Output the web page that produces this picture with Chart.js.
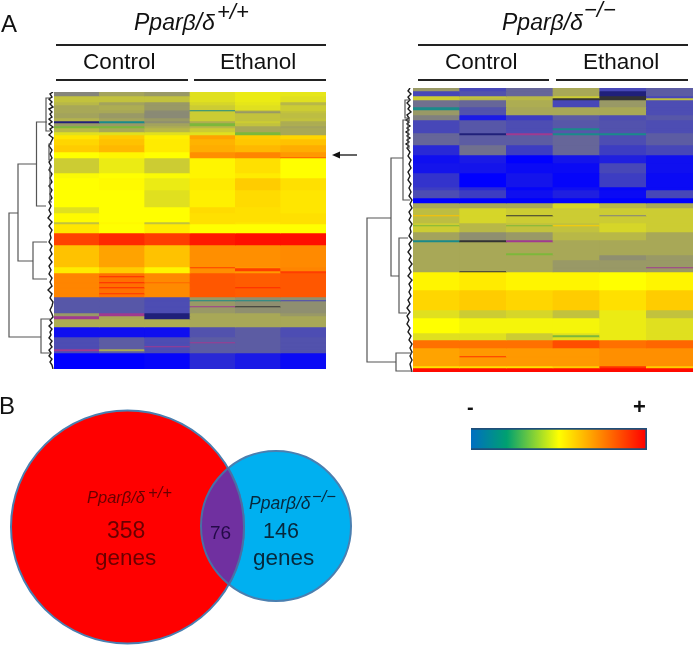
<!DOCTYPE html>
<html>
<head>
<meta charset="utf-8">
<script src="https://cdn.jsdelivr.net/npm/chart.js@4"></script>
<style>
  html, body { margin: 0; padding: 0; background: #fff; }
  #page { position: relative; width: 693px; height: 649px; overflow: hidden; font-family: "Liberation Sans", Arial, sans-serif; color: #111; }
  canvas { position: absolute; filter: blur(0.5px); }
  .t { position: absolute; white-space: nowrap; line-height: 1; filter: blur(0.25px); }
  .it { font-style: italic; }
  .rule { position: absolute; height: 1.5px; background: #222; }
</style>
</head>
<body>
<div id="page">
  <div class="t" style="left:1px;top:12px;font-size:24px">A</div>
  <div class="t" style="left:-1px;top:394px;font-size:24px">B</div>

  <div class="t it" style="left:134px;top:11px;font-size:23px">Pparβ/δ</div>
  <div class="t it" style="left:217px;top:1px;font-size:22px">+/+</div>
  <div class="t it" style="left:502px;top:11px;font-size:23px">Pparβ/δ</div>
  <div class="t it" style="left:584px;top:-1px;font-size:22px">−/−</div>

  <div class="rule" style="left:56px;top:44px;width:270px"></div>
  <div class="rule" style="left:56px;top:79px;width:132px"></div>
  <div class="rule" style="left:194px;top:79px;width:132px"></div>
  <div class="rule" style="left:418px;top:44px;width:270px"></div>
  <div class="rule" style="left:418px;top:79px;width:131px"></div>
  <div class="rule" style="left:556px;top:79px;width:132px"></div>

  <div class="t" style="left:83px;top:51px;font-size:22.5px">Control</div>
  <div class="t" style="left:220px;top:51px;font-size:22.5px">Ethanol</div>
  <div class="t" style="left:445px;top:51px;font-size:22.5px">Control</div>
  <div class="t" style="left:583px;top:51px;font-size:22.5px">Ethanol</div>

  <svg style="position:absolute;left:331px;top:150px" width="26" height="10">
    <path d="M1 5 L9 1.5 L9 8.5 Z" fill="#111"></path>
    <line x1="8" y1="5" x2="26" y2="5" stroke="#111" stroke-width="1.3"></line>
  </svg>

  <canvas id="leftDendro" style="left:0px;top:92px"></canvas>
  <canvas id="leftHeatmap" style="left:54px;top:92px"></canvas>
  <canvas id="rightDendro" style="left:360px;top:88px"></canvas>
  <canvas id="rightHeatmap" style="left:413px;top:88px"></canvas>

  <canvas id="venn" style="left:0px;top:400px"></canvas>
  <div class="t it" style="left:87px;top:489px;font-size:16.5px;color:#6a0000">Pparβ/δ</div>
  <div class="t it" style="left:148px;top:484px;font-size:16.5px;color:#6a0000">+/+</div>
  <div class="t" style="left:107px;top:519px;font-size:23px;color:#6a0000">358</div>
  <div class="t" style="left:95px;top:547px;font-size:22.5px;color:#6a0000">genes</div>
  <div class="t" style="left:210px;top:523px;font-size:19px;color:#240a48">76</div>
  <div class="t it" style="left:249px;top:495px;font-size:17.5px;color:#06283c">Pparβ/δ</div>
  <div class="t it" style="left:312px;top:488px;font-size:16.5px;color:#06283c">−/−</div>
  <div class="t" style="left:263px;top:521px;font-size:21.5px;color:#06283c">146</div>
  <div class="t" style="left:253px;top:547px;font-size:22.5px;color:#06283c">genes</div>

  <div class="t" style="left:467px;top:397px;font-size:20px;font-weight:bold">-</div>
  <div class="t" style="left:633px;top:396px;font-size:22px;font-weight:bold">+</div>
  <canvas id="colorbar" style="left:468px;top:425px"></canvas>
</div>

<script>
// Samples across each heat map, three control and three ethanol
const samples = ['C1', 'C2', 'C3', 'E1', 'E2', 'E3'];

// Left heat map (wild type): band heights and expression per sample.
// 0 is blue, 50 yellow, 100 red. Letters are the thin outlier streaks.
const leftRowHeights = [4, 6, 3, 5, 1, 2, 5, 3, 2, 3, 2, 4, 3, 4, 6, 7, 5, 1, 15, 5, 12, 17, 6, 9, 2, 9, 12, 22, 1, 3, 2, 3, 1, 5, 1, 4, 1, 5, 1, 3, 3, 1, 5, 1, 6, 3, 3, 8, 10, 5, 1, 3, 1, 2, 2, 2, 16];
const leftHeat = [
  [26, 32, 30, 44, 46, 45],
  [38, 38, 38, 44, 46, 44],
  [36, 32, 30, 42, 45, 36],
  [33, 34, 30, 40, 44, 40],
  [33, 33, 28, 't', 38, 40],
  [33, 33, 27, 40, 30, 38],
  [32, 30, 27, 40, 38, 37],
  [35, 32, 30, 40, 38, 38],
  ['n', 't', 28, 34, 40, 34],
  [30, 30, 32, 'g', 38, 34],
  ['g', 'g', 34, 36, 33, 32],
  [36, 33, 36, 40, 33, 33],
  [44, 44, 44, 44, 'g', 33],
  [55, 60, 53, 68, 60, 58],
  [58, 62, 54, 65, 61, 62],
  [60, 64, 54, 66, 64, 66],
  [50, 52, 50, 72, 74, 70],
  [50, 52, 50, 72, 74, 82],
  [40, 46, 40, 52, 56, 50],
  [49, 50, 49, 52, 54, 50],
  [50, 51, 46, 54, 60, 56],
  [50, 50, 44, 53, 57, 55],
  [44, 50, 50, 57, 56, 55],
  [51, 50, 50, 56, 56, 56],
  [38, 51, 38, 56, 55, 56],
  [55, 50, 54, 50, 50, 50],
  [87, 92, 88, 95, 97, 97],
  [62, 68, 62, 72, 72, 73],
  [54, 60, 52, 88, 70, 74],
  [54, 60, 52, 72, 88, 74],
  [54, 60, 52, 72, 70, 88],
  [74, 78, 73, 83, 82, 83],
  [74, 92, 73, 83, 82, 83],
  [74, 78, 73, 83, 82, 83],
  [74, 92, 80, 83, 82, 83],
  [74, 78, 73, 83, 82, 83],
  [74, 92, 73, 83, 92, 83],
  [74, 78, 73, 83, 82, 83],
  [74, 90, 73, 83, 82, 83],
  [74, 78, 73, 83, 82, 83],
  [17, 17, 15, 30, 28, 28],
  [17, 17, 15, 't', 't', 14],
  [17, 17, 15, 30, 28, 28],
  [17, 17, 15, 'm', 'k', 28],
  [17, 17, 15, 30, 28, 28],
  [30, 'm', 'n', 33, 33, 30],
  ['m', 33, 'n', 33, 33, 33],
  [34, 34, 34, 33, 33, 33],
  [3, 3, 3, 16, 18, 15],
  [15, 18, 15, 18, 18, 16],
  [15, 18, 15, 'm', 18, 16],
  [15, 18, 15, 18, 18, 16],
  [15, 18, 'm', 18, 18, 16],
  [15, 18, 15, 18, 18, 16],
  ['m', 33, 15, 18, 18, 16],
  [15, 18, 15, 18, 18, 16],
  [0, 0, 1, 8, 5, 2]
];

// Right heat map (knockout)
const rightRowHeights = [3, 5, 2, 2, 7, 3, 5, 5, 8, 2, 3, 2, 10, 10, 8, 10, 14, 3, 8, 5, 5, 7, 1, 7, 2, 1, 6, 8, 2, 11, 2, 5, 7, 1, 3, 1, 18, 20, 8, 15, 2, 2, 3, 8, 8, 1, 9, 2, 4];
const rightHeat = [
  [30, 14, 20, 33, 14, 18],
  [14, 16, 20, 33, 'n', 18],
  [40, 38, 36, 40, 'k', 14],
  [40, 36, 36, 'k', 'k', 38],
  [22, 20, 34, 14, 30, 15],
  ['t', 16, 33, 33, 33, 15],
  [30, 16, 33, 33, 33, 15],
  [25, 5, 12, 18, 15, 17],
  [14, 17, 15, 17, 16, 15],
  [14, 17, 15, 't', 16, 15],
  [14, 17, 15, 17, 16, 15],
  [20, 'n', 'm', 't', 't', 18],
  [20, 18, 18, 20, 15, 18],
  [8, 22, 12, 20, 12, 14],
  [3, 5, 0, 4, 6, 3],
  [4, 4, 2, 2, 14, 3],
  [10, 0, 4, 1, 12, 2],
  [12, 8, 1, 3, 1, 2],
  [15, 12, 3, 6, 2, 14],
  [0, 0, 0, 1, 0, 0],
  [33, 33, 33, 42, 36, 33],
  [37, 42, 40, 40, 40, 40],
  [62, 42, 'k', 40, 25, 40],
  [37, 42, 40, 40, 40, 40],
  [40, 36, 38, 38, 42, 40],
  ['g', 36, 'g', 60, 42, 40],
  [40, 36, 38, 38, 42, 40],
  [32, 28, 30, 36, 36, 33],
  ['t', 'k', 'm', 33, 33, 33],
  [33, 33, 33, 33, 33, 33],
  [33, 33, 'g', 33, 33, 33],
  [33, 33, 33, 33, 28, 30],
  [33, 33, 33, 30, 30, 30],
  [33, 33, 33, 30, 30, 'm'],
  [33, 33, 33, 30, 30, 30],
  [33, 'k', 33, 30, 30, 30],
  [52, 54, 52, 52, 50, 52],
  [58, 60, 58, 60, 56, 60],
  [44, 40, 42, 38, 46, 38],
  [50, 48, 48, 48, 46, 44],
  [44, 44, 40, 44, 46, 44],
  [44, 44, 40, 'g', 46, 44],
  [44, 44, 40, 44, 46, 44],
  [78, 78, 78, 85, 78, 80],
  [68, 70, 70, 70, 72, 72],
  [68, 90, 70, 70, 72, 72],
  [68, 70, 70, 70, 72, 72],
  [56, 56, 56, 60, 90, 60],
  [98, 98, 98, 98, 98, 98]
];

// Dendrogram merges: [distance, row of upper child, row of lower child, upper child distance, lower child distance]
const leftMerges = [
  [9, 121, 245, 18, 41],
  [18, 72, 169, 36.5, 33],
  [36.5, 30, 114, 47, 46],
  [33, 150, 187, 47, 47],
  [41, 227, 261, 50, 50],
  [46, 6, 39, 50, 50],
  [49, 52, 68, 52, 52],
  [50, 75, 110, 52, 52]
];
const rightMerges = [
  [7, 130, 274, 31, 36],
  [31, 70, 188, 43, 39],
  [43, 32, 112, 50, 50],
  [39, 150, 225, 48, 47],
  [36, 265, 283, 52, 52],
  [45, 12, 30, 50, 50],
  [48, 32, 60, 50, 50]
];

// Leaf ends of the dendrograms, row and distance along the comb
const leftCombRows = [0, 2, 5, 7, 10, 12, 15, 17, 20, 22, 25, 27, 30, 32, 35, 37, 40, 43, 46, 50, 54, 58, 62, 66, 70, 74, 78, 82, 86, 90, 94, 98, 102, 106, 110, 114, 118, 122, 126, 130, 134, 138, 142, 146, 150, 154, 158, 162, 166, 170, 174, 178, 182, 186, 190, 194, 198, 202, 206, 210, 214, 218, 222, 225, 228, 231, 234, 237, 240, 243, 246, 249, 252, 255, 258, 261, 264, 267, 270, 273, 277];
const leftCombDist = [53, 50, 52, 49, 52, 50, 53, 49, 52, 50, 52, 49, 52, 49, 53, 50, 52, 49, 53, 51, 49, 52, 50, 52, 49, 51, 49, 52, 50, 52, 49, 52, 50, 52, 49, 51, 49, 51, 48, 52, 49, 52, 50, 51, 49, 52, 50, 52, 49, 52, 49, 51, 49, 52, 50, 52, 48, 52, 50, 53, 52, 50, 52, 53, 50, 52, 49, 52, 50, 51, 49, 52, 50, 52, 49, 51, 49, 52, 50, 52, 53];
const rightCombRows = [0, 3, 6, 9, 12, 15, 18, 21, 24, 27, 30, 32, 34, 36, 38, 40, 42, 44, 46, 48, 50, 52, 54, 56, 58, 60, 64, 68, 72, 76, 80, 84, 88, 92, 96, 100, 104, 108, 112, 116, 120, 124, 128, 132, 136, 140, 144, 148, 152, 156, 160, 164, 168, 172, 176, 180, 184, 188, 192, 196, 200, 204, 208, 212, 216, 220, 224, 228, 232, 236, 240, 244, 248, 252, 256, 260, 264, 268, 272, 276, 280, 284];
const rightCombDist = [50, 48, 51, 48, 50, 47, 50, 48, 51, 47, 49, 46, 49, 47, 50, 47, 49, 46, 49, 47, 50, 47, 49, 46, 49, 47, 50, 48, 51, 49, 51, 48, 50, 48, 51, 49, 51, 49, 52, 50, 52, 49, 51, 49, 52, 50, 51, 49, 52, 49, 51, 48, 51, 49, 52, 49, 51, 48, 52, 49, 51, 49, 51, 48, 50, 47, 50, 47, 49, 47, 50, 48, 51, 49, 52, 50, 52, 50, 52, 50, 51, 52];

// Venn circles, gene counts 358 / 76 / 146 are shown as text
const vennCircles = [
  { x: 276, y: 126, r: 75 },
  { x: 127.5, y: 127, r: 116.5 }
];

// Colour key stops
const keyStops = [0, 0.2, 0.5, 0.68, 1];
const keyColors = ['#0070c0', '#00a070', '#ffff00', '#ffa500', '#ff0000'];

const streakColors = { g: '#7cb83a', t: '#1a8a8a', m: '#a03a90', n: '#20207a', k: '#333333' };

// Blue to yellow to red, same scale as the array software
function heatColor(v) {
  if (typeof v === 'string') return streakColors[v];
  const low = v < 50;
  const f = low ? v / 50 : (v - 50) / 50;
  const r = low ? Math.round(255 * f) : 255;
  const g = low ? Math.round(255 * f) : Math.round(255 * (1 - f));
  const b = low ? Math.round(255 * (1 - f)) : 0;
  return `rgb(${r},${g},${b})`;
}

function sizeCanvas(id, w, h) {
  const canvas = document.getElementById(id);
  canvas.width = w;
  canvas.height = h;
  return canvas;
}

const baseOptions = {
  responsive: false,
  animation: false,
  devicePixelRatio: 1,
  layout: { padding: 0, autoPadding: false },
  plugins: { legend: { display: false }, tooltip: { enabled: false } }
};

// Each row is a stacked dataset, each sample a bar
function createHeatmap(id, w, heights, heat) {
  const total = heights.reduce((a, b) => a + b, 0);
  return new Chart(sizeCanvas(id, w, total), {
    type: 'bar',
    data: {
      labels: samples,
      datasets: heights.map((h, i) => ({
        data: samples.map(() => h),
        backgroundColor: heat[i].map(heatColor),
        borderWidth: 0,
        categoryPercentage: 1,
        barPercentage: 1
      }))
    },
    options: {
      ...baseOptions,
      scales: {
        x: { stacked: true, display: false },
        y: { stacked: true, display: false, reverse: true, min: 0, max: total }
      }
    }
  });
}

function createDendrogram(id, w, h, merges, combRows, combDist) {
  const datasets = merges.map(m => ({
    data: [
      { x: m[3], y: m[1] },
      { x: m[0], y: m[1] },
      { x: m[0], y: m[2] },
      { x: m[4], y: m[2] }
    ],
    borderColor: '#555',
    borderWidth: 1.2
  }));
  datasets.push({
    data: combRows.map((row, i) => ({ x: combDist[i], y: row })),
    borderColor: '#1c1c1c',
    borderWidth: 1.4
  });
  datasets.forEach(d => { d.showLine = true; d.pointRadius = 0; });
  return new Chart(sizeCanvas(id, w, h), {
    type: 'scatter',
    data: { datasets: datasets },
    options: {
      ...baseOptions,
      scales: {
        x: { type: 'linear', display: false, min: 0, max: w },
        y: { type: 'linear', display: false, reverse: true, min: 0, max: h }
      }
    }
  });
}

// Overlap of the two circles, filled after the bubbles are drawn
const vennOverlap = {
  id: 'vennOverlap',
  afterDatasetsDraw(chart) {
    const { ctx } = chart;
    const pts = chart.getDatasetMeta(0).data;
    const radius = vennCircles.map(c => c.r);
    const circle = i => {
      ctx.beginPath();
      ctx.arc(pts[i].x, pts[i].y, radius[i], 0, Math.PI * 2);
    };
    ctx.save();
    circle(0);
    ctx.clip();
    circle(1);
    ctx.fillStyle = '#7030a0';
    ctx.fill();
    ctx.lineWidth = 2;
    ctx.strokeStyle = '#4a6fa5';
    ctx.stroke();
    ctx.restore();
    ctx.save();
    circle(1);
    ctx.clip();
    circle(0);
    ctx.lineWidth = 2;
    ctx.strokeStyle = '#4a6fa5';
    ctx.stroke();
    ctx.restore();
  }
};

new Chart(sizeCanvas('venn', 370, 249), {
  type: 'bubble',
  data: {
    datasets: [{
      data: vennCircles,
      backgroundColor: ['#00b0f0', '#ff0000'],
      borderColor: '#4a7fb0',
      borderWidth: 2,
      clip: false
    }]
  },
  options: {
    ...baseOptions,
    scales: {
      x: { type: 'linear', display: false, min: 0, max: 370 },
      y: { type: 'linear', display: false, reverse: true, min: 0, max: 249 }
    }
  },
  plugins: [vennOverlap]
});

createHeatmap('leftHeatmap', 272, leftRowHeights, leftHeat);
createHeatmap('rightHeatmap', 280, rightRowHeights, rightHeat);
createDendrogram('leftDendro', 54, 277, leftMerges, leftCombRows, leftCombDist);
createDendrogram('rightDendro', 53, 284, rightMerges, rightCombRows, rightCombDist);

// Colour key, one bar filled with a gradient
const keyCanvas = sizeCanvas('colorbar', 182, 28);
const keyGradient = keyCanvas.getContext('2d').createLinearGradient(4, 0, 178, 0);
keyStops.forEach((s, i) => keyGradient.addColorStop(s, keyColors[i]));
new Chart(keyCanvas, {
  type: 'bar',
  data: {
    labels: ['key'],
    datasets: [{
      data: [1],
      backgroundColor: keyGradient,
      borderColor: '#1f4e79',
      borderWidth: 2,
      borderRadius: 1,
      categoryPercentage: 1,
      barPercentage: 1
    }]
  },
  options: {
    ...baseOptions,
    indexAxis: 'y',
    layout: { padding: { left: 3, right: 3, top: 3, bottom: 3 } },
    scales: {
      x: { display: false, min: 0, max: 1 },
      y: { display: false }
    }
  }
});
</script>
</body>
</html>
